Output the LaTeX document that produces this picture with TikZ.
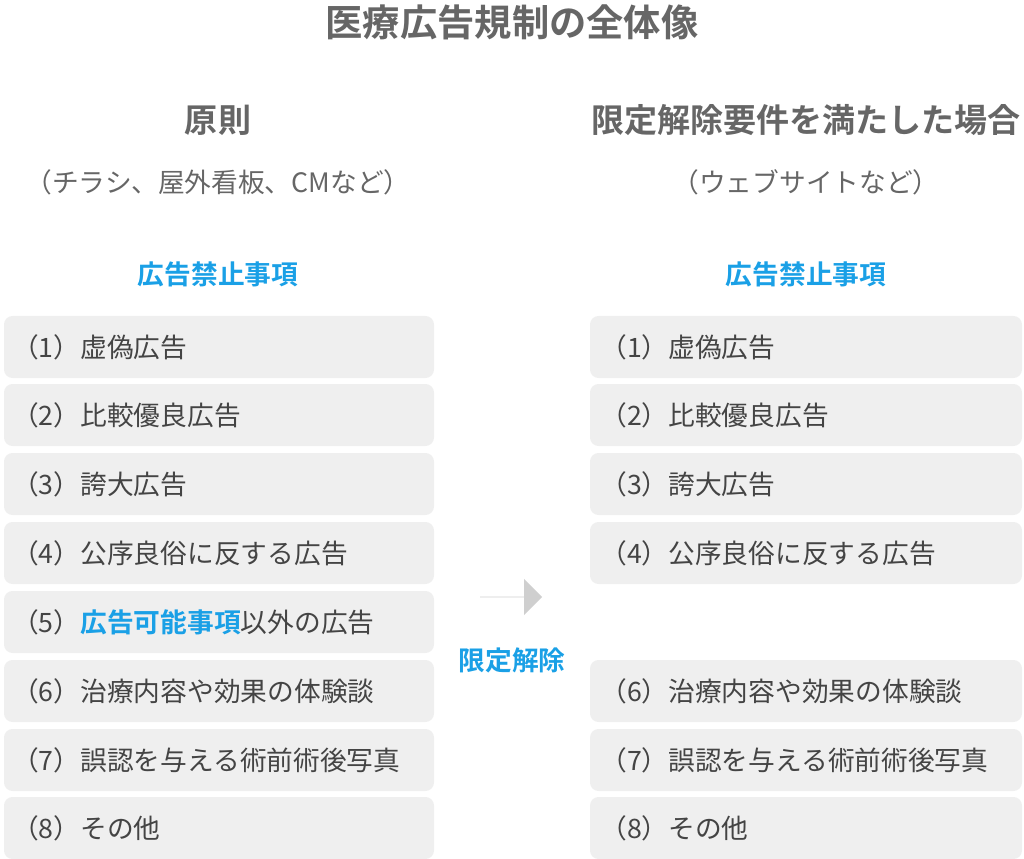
\documentclass[tikz,border=0pt]{standalone}
\usepackage{fontspec}
\setmainfont{Noto Sans CJK JP}
\newfontfamily\jpbold{Noto Sans CJK JP Bold}
\usetikzlibrary{positioning,shapes.arrows}
\definecolor{txtgray}{HTML}{666666}
\definecolor{itemgray}{HTML}{444444}
\definecolor{boxgray}{HTML}{EFEFEF}
\definecolor{arrgray}{HTML}{CFCFCF}
\definecolor{hiblue}{HTML}{1AA0E6}
\begin{document}
\begin{tikzpicture}[x=0.025cm,y=-0.025cm]
\tikzset{itemtext/.style={text=itemgray,font=\fontsize{19}{22}\selectfont,anchor=west,inner sep=0pt},
  headtext/.style={text=txtgray,font=\jpbold\fontsize{23.5}{27}\selectfont},
  subtext/.style={text=txtgray,font=\fontsize{19}{22}\selectfont},
  bluehead/.style={text=hiblue,font=\jpbold\fontsize{19}{22}\selectfont}}
\useasboundingbox (0,0) rectangle (1024,859);
\node[text=txtgray,font=\jpbold\fontsize{26.5}{30}\selectfont] (title) at (512,22) {医療広告規制の全体像};
\node[headtext] (lhead) at (218,120) {原則};
\node[subtext] (lsub) at (218,182) {（チラシ、屋外看板、CMなど）};
\node[headtext] (rhead) at (806,120) {限定解除要件を満たした場合};
\node[subtext] (rsub) at (806,182) {（ウェブサイトなど）};
\node[bluehead] (lban) at (218,274) {広告禁止事項};
\node[bluehead] (rban) at (806,274) {広告禁止事項};
% left column
\foreach \i/\y/\t in {1/347/（1）虚偽広告,2/415/（2）比較優良広告,3/484/（3）誇大広告,
  4/553/（4）公序良俗に反する広告,5/622/（5）{\jpbold\color{hiblue}広告可能事項}以外の広告,
  6/691/（6）治療内容や効果の体験談,7/760/（7）誤認を与える術前術後写真,8/828/（8）その他}{
  \fill[boxgray,rounded corners=6pt] (4,\y-31) rectangle (434,\y+31);
  \node[itemtext] (l\i) at (12,\y) {\t};
}
% right column
\foreach \i/\y/\t in {1/347/（1）虚偽広告,2/415/（2）比較優良広告,3/484/（3）誇大広告,
  4/553/（4）公序良俗に反する広告,
  6/691/（6）治療内容や効果の体験談,7/760/（7）誤認を与える術前術後写真,8/828/（8）その他}{
  \fill[boxgray,rounded corners=6pt] (590,\y-31) rectangle (1022,\y+31);
  \node[itemtext] (r\i) at (600,\y) {\t};
}
\node[single arrow,fill=arrgray,draw=none,minimum height=1.55cm,minimum width=0.9cm,
  single arrow head extend=0.35cm,inner sep=0pt] (arr) at (511,597) {};
\node[bluehead] (lift) at (512,660) {限定解除};
\end{tikzpicture}
\end{document}
